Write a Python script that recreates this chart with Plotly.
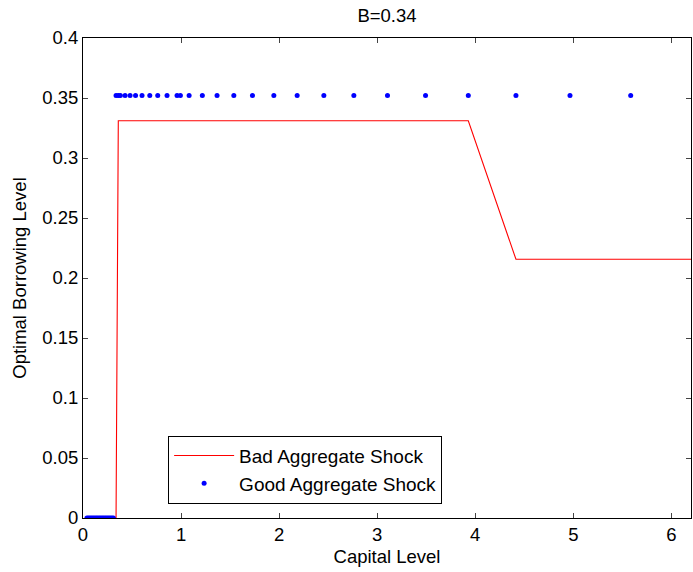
import plotly.graph_objects as go

# Capital grid (x values)
capital = [0.04, 0.055, 0.07, 0.085, 0.10, 0.115, 0.13, 0.145, 0.16, 0.175,
           0.19, 0.205, 0.22, 0.235, 0.25, 0.265, 0.28, 0.295, 0.31,
           0.337, 0.36, 0.381, 0.429, 0.48, 0.536, 0.602, 0.681, 0.762,
           0.857, 0.959, 0.993, 1.082, 1.217, 1.367, 1.538, 1.728, 1.946,
           2.184, 2.456, 2.762, 3.105, 3.493, 3.929, 4.415, 4.966, 5.585, 6.28]

# Bad aggregate shock borrowing (red line)
bad_shock = [0.0] * 20 + [0.331] * 23 + [0.2156] * 4

# Good aggregate shock borrowing (blue dots)
good_shock = [0.0] * 19 + [0.352] * 28

x_ticks = [0, 1, 2, 3, 4, 5, 6]
y_ticks = [0, 0.05, 0.1, 0.15, 0.2, 0.25, 0.3, 0.35, 0.4]
y_tick_text = ["0", "0.05", "0.1", "0.15", "0.2", "0.25", "0.3", "0.35", "0.4"]

FONT = "Liberation Sans, Arial, sans-serif"

fig = go.Figure()
fig.add_trace(go.Scatter(
    x=capital, y=bad_shock, mode="lines", name="Bad Aggregate Shock",
    line=dict(color="#ff0000", width=1.1)))
fig.add_trace(go.Scatter(
    x=capital, y=good_shock, mode="markers", name="Good Aggregate Shock",
    marker=dict(color="#0000ff", size=5)))

axis_common = dict(
    showline=True, linecolor="black", linewidth=1, mirror="allticks",
    ticks="inside", ticklen=5, tickcolor="#444", tickwidth=1,
    showgrid=False, zeroline=False,
    tickfont=dict(family=FONT, size=18.5, color="black"),
)

fig.update_layout(
    width=693, height=572,
    margin=dict(l=83, r=2, t=38, b=54),
    paper_bgcolor="white", plot_bgcolor="white",
    font=dict(family=FONT, size=18.5, color="black"),
    title=dict(text="B=0.34", x=(83 + 691) / 2 / 693, xanchor="center",
               y=1 - 16 / 572, yanchor="middle",
               font=dict(family=FONT, size=18.5, color="black")),
    xaxis=dict(range=[0, 6.2], tickvals=x_ticks,
               title=dict(text="Capital Level", standoff=5,
                          font=dict(family=FONT, size=18.5)),
               **axis_common),
    yaxis=dict(range=[0, 0.4], tickvals=y_ticks, ticktext=y_tick_text,
               title=dict(text="Optimal Borrowing Level", standoff=10,
                          font=dict(family=FONT, size=18.5)),
               **axis_common),
    legend=dict(x=0.14, y=0.03, xanchor="left", yanchor="bottom",
                bgcolor="white", bordercolor="black", borderwidth=1,
                font=dict(family=FONT, size=19, color="black"),
                tracegroupgap=0, itemwidth=60),
    showlegend=True,
)

fig.write_html("out.html")
